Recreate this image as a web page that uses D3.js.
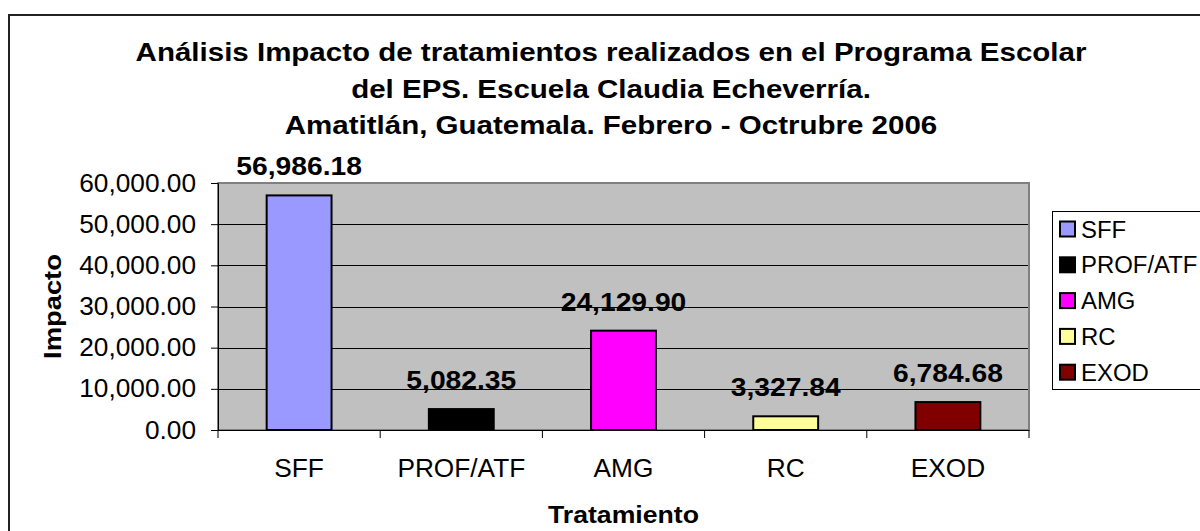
<!DOCTYPE html>
<html>
<head>
<meta charset="utf-8">
<script src="https://cdn.jsdelivr.net/npm/d3@7"></script>
<style>
  body { margin: 0; background: #fff; }
  text { font-family: "Liberation Sans", Arial, sans-serif; fill: #000; }
</style>
</head>
<body>
<svg id="chart" width="1200" height="531"></svg>
<script>
var categories = ["SFF", "PROF/ATF", "AMG", "RC", "EXOD"];
var values = [56986.18, 5082.35, 24129.90, 3327.84, 6784.68];
var colors = ["#9999ff", "#000000", "#ff00ff", "#ffff99", "#800000"];
var yTicks = [0, 10000, 20000, 30000, 40000, 50000, 60000];
var titleLines = [
  "Análisis Impacto de tratamientos realizados en el Programa Escolar",
  "del EPS. Escuela Claudia Echeverría.",
  "Amatitlán, Guatemala. Febrero - Octrubre 2006"
];

var svg = d3.select("#chart");

var plot = {left: 218, right: 1029, top: 183, bottom: 430};

var x = d3.scaleBand()
    .domain(categories)
    .range([plot.left, plot.right])
    .paddingInner(0.6)
    .paddingOuter(0.3);

var y = d3.scaleLinear()
    .domain([0, 60000])
    .range([plot.bottom, plot.top]);

var fmt = d3.format(",.2f");

// the original picture is a bit wider than tall, so widen the text a little
function stretch(sel, sx) {
  sel.each(function() {
    var t = d3.select(this),
        tx = +t.attr("x") || 0,
        ty = +t.attr("y") || 0;
    t.attr("x", null).attr("y", null)
     .attr("transform", "translate(" + tx + "," + ty + ") scale(" + sx + ",1)");
  });
}

// outer chart border
svg.append("rect")
    .attr("x", 9).attr("y", 15)
    .attr("width", 1200).attr("height", 530)
    .attr("fill", "none")
    .attr("stroke", "#222")
    .attr("stroke-width", 2);

// title
svg.append("g").selectAll("text")
    .data(titleLines)
  .enter().append("text")
    .attr("x", 611)
    .attr("y", (d, i) => 61 + i * 36.5)
    .attr("text-anchor", "middle")
    .attr("font-size", 26)
    .attr("font-weight", "bold")
    .text(d => d)
    .call(stretch, 1.135);

// plot area
svg.append("rect")
    .attr("x", plot.left).attr("y", plot.top)
    .attr("width", plot.right - plot.left)
    .attr("height", plot.bottom - plot.top)
    .attr("fill", "#c0c0c0");

// gridlines
svg.append("g").selectAll("line")
    .data(yTicks.slice(1, -1))
  .enter().append("line")
    .attr("x1", plot.left).attr("x2", plot.right)
    .attr("y1", d => Math.round(y(d)) + 0.5)
    .attr("y2", d => Math.round(y(d)) + 0.5)
    .attr("stroke", "#000")
    .attr("stroke-width", 1);

svg.append("rect")
    .attr("x", plot.left).attr("y", plot.top)
    .attr("width", plot.right - plot.left)
    .attr("height", plot.bottom - plot.top)
    .attr("fill", "none")
    .attr("stroke", "#808080")
    .attr("stroke-width", 2);

// bars
svg.append("g").selectAll("rect")
    .data(values)
  .enter().append("rect")
    .attr("x", (d, i) => x(categories[i]))
    .attr("y", d => y(d))
    .attr("width", x.bandwidth())
    .attr("height", d => y(0) - y(d))
    .attr("fill", (d, i) => colors[i])
    .attr("stroke", "#000")
    .attr("stroke-width", 2);

// value labels
svg.append("g").selectAll("text")
    .data(values)
  .enter().append("text")
    .attr("x", (d, i) => x(categories[i]) + x.bandwidth() / 2)
    .attr("y", d => y(d) - 20)
    .attr("text-anchor", "middle")
    .attr("font-size", 25)
    .attr("font-weight", "bold")
    .text(d => fmt(d))
    .call(stretch, 1.13);

// y axis
var yAxis = svg.append("g")
    .attr("transform", "translate(" + plot.left + ",0)")
    .call(d3.axisLeft(y).tickValues(yTicks).tickFormat(fmt).tickSize(7).tickPadding(14));
yAxis.select(".domain").attr("stroke", "#000").attr("stroke-width", 1);
yAxis.selectAll(".tick line").attr("stroke", "#000");
yAxis.selectAll(".tick text")
    .attr("font-size", 25)
    .attr("font-family", "Liberation Sans, Arial, sans-serif")
    .attr("fill", "#000")
    .attr("x", -22)
    .call(stretch, 1.05);

// x axis (ticks at category boundaries)
var xEdges = categories.map(c => x(c) - x.step() * x.paddingInner() / 2);
xEdges.push(plot.right);
var xAxis = svg.append("g");
xAxis.append("line")
    .attr("x1", plot.left).attr("x2", plot.right)
    .attr("y1", plot.bottom + 0.5).attr("y2", plot.bottom + 0.5)
    .attr("stroke", "#000");
xAxis.selectAll(".tk")
    .data(xEdges)
  .enter().append("line")
    .attr("x1", d => d).attr("x2", d => d)
    .attr("y1", plot.bottom).attr("y2", plot.bottom + 8)
    .attr("stroke", "#000");
xAxis.selectAll("text")
    .data(categories)
  .enter().append("text")
    .attr("x", d => x(d) + x.bandwidth() / 2)
    .attr("y", 477)
    .attr("text-anchor", "middle")
    .attr("font-size", 25)
    .text(d => d)
    .call(stretch, 1.05);

// axis titles
svg.append("text")
    .attr("transform", "translate(61," + ((plot.top + plot.bottom) / 2) + ") rotate(-90) scale(1.14,1)")
    .attr("text-anchor", "middle")
    .attr("font-size", 24)
    .attr("font-weight", "bold")
    .text("Impacto");

svg.append("text")
    .attr("x", (plot.left + plot.right) / 2)
    .attr("y", 523)
    .attr("text-anchor", "middle")
    .attr("font-size", 24)
    .attr("font-weight", "bold")
    .text("Tratamiento")
    .call(stretch, 1.11);

// legend
var legend = svg.append("g");
legend.append("rect")
    .attr("x", 1052.5).attr("y", 211.5)
    .attr("width", 200).attr("height", 178)
    .attr("fill", "#fff")
    .attr("stroke", "#000")
    .attr("stroke-width", 1);
var items = legend.selectAll("g.item")
    .data(categories)
  .enter().append("g")
    .attr("class", "item")
    .attr("transform", (d, i) => "translate(1060," + (229 + i * 35.8) + ")");
items.append("rect")
    .attr("x", 0).attr("y", -7.5)
    .attr("width", 15).attr("height", 15)
    .attr("fill", (d, i) => colors[i])
    .attr("stroke", "#000")
    .attr("stroke-width", 2);
items.append("text")
    .attr("x", 21)
    .attr("y", 8.5)
    .attr("font-size", 23)
    .text(d => d)
    .call(stretch, 1.04);
</script>
</body>
</html>
